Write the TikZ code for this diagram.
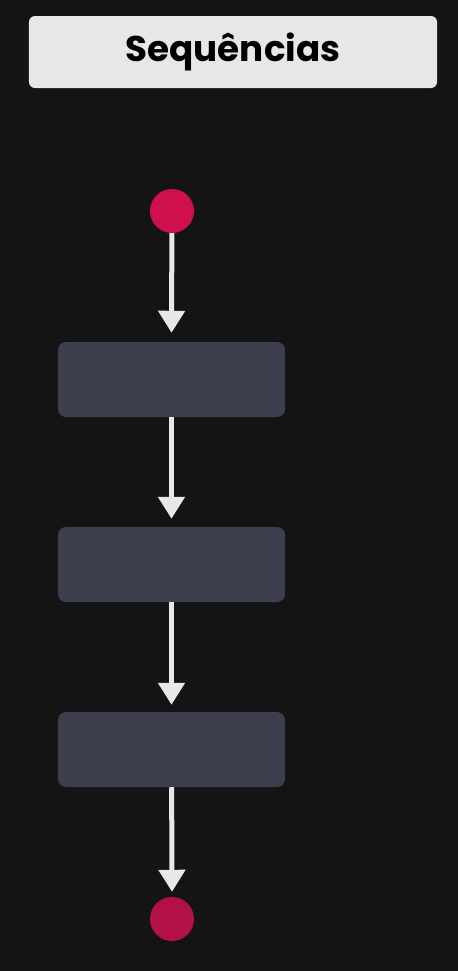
\documentclass[tikz,border=0pt]{standalone}
\usepackage{fontspec}
\setmainfont{Poppins}
\usepackage{xcolor}
\usepackage{tikz}
\usetikzlibrary{arrows.meta}
\usetikzlibrary{shapes}

\definecolor{bgdark}{HTML}{141414}
\definecolor{titlegray}{HTML}{E6E7E7}
\definecolor{boxgray}{HTML}{3D3E4E}
\definecolor{startred}{HTML}{D0104C}
\definecolor{endred}{HTML}{B3104A}
\definecolor{flowwhite}{HTML}{E8E8E8}

\tikzset{
    stepbox/.style = {rectangle, rounded corners = 0.24cm, fill = boxgray,
        minimum width = 6.81cm, minimum height = 2.25cm, inner sep = 0pt},
    dot/.style = {circle, minimum size = 1.32cm, inner sep = 0pt},
    flow/.style = {draw = flowwhite, line width = 0.15cm,
        -{Triangle[width = 0.78cm, length = 0.66cm, fill = flowwhite]}}
}

\begin{document}
\begin{tikzpicture}[x = 0.03cm, y = -0.03cm]
        \fill[bgdark] (0, 0) rectangle (458, 971);
        \useasboundingbox (0, 0) rectangle (458, 971);

        \node[rectangle, rounded corners = 0.18cm, fill = titlegray,
            minimum width = 12.24cm, minimum height = 2.16cm, inner sep = 0pt]
            (title) at (233, 52)
            {\raisebox{-0.09cm}{\fontsize{30.5}{36}\selectfont\bfseries Sequências}};

        \node[dot, fill = startred] (start) at (172, 211) {};
        \node[stepbox] (box1) at (171.5, 379.5) {};
        \node[stepbox] (box2) at (171.5, 564.5) {};
        \node[stepbox] (box3) at (171.5, 749.5) {};
        \node[dot, fill = endred] (end) at (172, 919) {};

        \draw[flow] (start) -- ([yshift = 0.27cm] box1.north);
        \draw[flow] (box1) -- ([yshift = 0.24cm] box2.north);
        \draw[flow] (box2) -- ([yshift = 0.21cm] box3.north);
        \draw[flow] (box3) -- ([yshift = 0.15cm] end.north);
    \end{tikzpicture}
\end{document}
